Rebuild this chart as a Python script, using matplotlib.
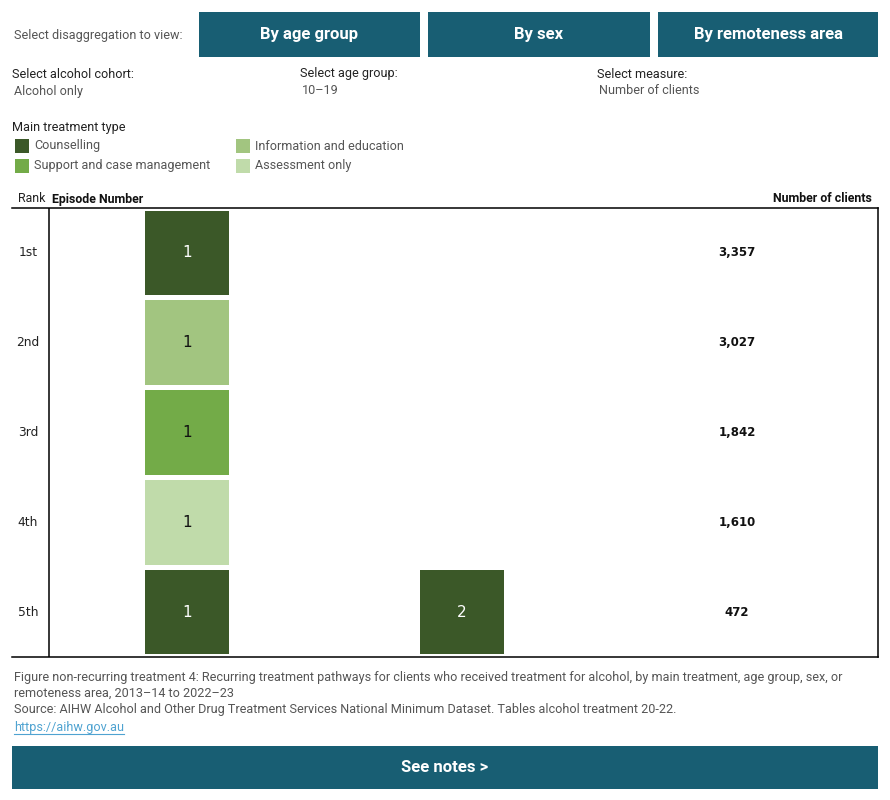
import matplotlib
matplotlib.use("Agg")
import matplotlib.pyplot as plt
from matplotlib import font_manager
from matplotlib.patches import Rectangle

# Dados
ranks = ["1st", "2nd", "3rd", "4th", "5th"]
pathways = [
    ["Counselling"],
    ["Information and education"],
    ["Support and case management"],
    ["Assessment only"],
    ["Counselling", "Counselling"],
]
clients = [3357, 3027, 1842, 1610, 472]

legend_items = ["Counselling", "Support and case management",
                "Information and education", "Assessment only"]
colors = {
    "Counselling": "#3b5828",
    "Information and education": "#a2c580",
    "Support and case management": "#73ab48",
    "Assessment only": "#c0dbaa",
}
dark_types = ["Counselling"]

buttons = ["By age group", "By sex", "By remoteness area"]
TEAL = "#185e73"
GRAY = "#555555"

# fonte condensada (estilo Tableau) se existir
names = {f.name for f in font_manager.fontManager.ttflist}
ui_font = ["Liberation Sans Narrow"] if "Liberation Sans Narrow" in names else ["Roboto"]
ui_font = ui_font + ["DejaVu Sans"]
FS = 9.1

W, H = 890, 800
fig = plt.figure(figsize=(W / 100, H / 100), dpi=100)


def fx(x):
    return x / W


def fy(y):
    return 1 - y / H


def txt(x, y, s, **kw):
    kw.setdefault("family", ui_font)
    kw.setdefault("va", "center")
    fig.text(fx(x), fy(y), s, **kw)


def box(x0, y0, x1, y1, color):
    fig.patches.append(Rectangle((fx(x0), fy(y1)), fx(x1) - fx(x0), fy(y0) - fy(y1),
                                 transform=fig.transFigure, color=color, lw=0))


# Cabeçalho com botões
txt(14, 35, "Select disaggregation to view:", size=FS, color=GRAY)
for (x0, x1), label in zip([(199, 420), (428, 650), (658, 878)], buttons):
    box(x0, 12, x1, 57, TEAL)
    txt((x0 + x1) / 2, 35, label, size=12, color="white", weight="bold", ha="center")

# Filtros
for x, head, val in [(12, "Select alcohol cohort:", "Alcohol only"),
                     (300, "Select age group:", "10\u201319"),
                     (597, "Select measure:", "Number of clients")]:
    txt(x, 74, head, size=FS, color="#222222")
    txt(x + 2, 91, val, size=FS, color=GRAY)

# Legenda
txt(12, 128, "Main treatment type", size=FS, color="#222222")
for i, item in enumerate(legend_items):
    col, row = divmod(i, 2)
    x = 15 + col * 221
    y = 146 + row * 20
    box(x, y - 7, x + 14, y + 7, colors[item])
    txt(x + 19, y, item, size=FS, color=GRAY)

# Cabeçalhos da tabela
txt(18, 199, "Rank", size=8.9, color="#222222")
txt(52, 199, "Episode Number", size=8.9, color="#111111", weight="bold")
txt(872, 199, "Number of clients", size=8.9, color="#111111", weight="bold", ha="right")

# Gráfico principal
ax = fig.add_axes([fx(12), fy(657), fx(878) - fx(12), fy(208) - fy(657)])
ax.set_xlim(1 - 175 / 275, 1 + 691 / 275)
ax.set_ylim(5.5, 0.5)
bar_w = 84 / 275
for r, (rank, path, n) in enumerate(zip(ranks, pathways, clients), start=1):
    for ep, t in enumerate(path, start=1):
        ax.bar(ep, 0.944, bottom=r - 0.472, width=bar_w, color=colors[t], lw=0)
        ax.text(ep, r, str(ep), ha="center", va="center", fontsize=11,
                color="white" if t in dark_types else "#111111")
    ax.text(1 - 159 / 275, r, rank, ha="center", va="center", fontsize=8.8, color="#222222")
    ax.text(3, r, f"{n:,}", ha="center", va="center", fontsize=8.5, weight="bold", color="#111111")

ax.axvline(1 - 138 / 275, color="black", lw=1.1)
ax.set_xticks([])
ax.set_yticks([])
ax.spines["left"].set_visible(False)
for s in ["top", "bottom", "right"]:
    ax.spines[s].set_linewidth(1.1)
    ax.spines[s].set_color("black")

# Rodapé
txt(14, 677, "Figure non-recurring treatment 4: Recurring treatment pathways for clients who received "
    "treatment for alcohol, by main treatment, age group, sex, or", size=FS, color=GRAY)
txt(14, 693, "remoteness area, 2013\u201314 to 2022\u201323", size=FS, color=GRAY)
txt(14, 710, "Source: AIHW Alcohol and Other Drug Treatment Services National Minimum Dataset. "
    "Tables alcohol treatment 20-22.", size=FS, color=GRAY)
link_col = "#4fa3d1"
txt(14, 727, "https://aihw.gov.au", size=FS, color=link_col)
fig.add_artist(plt.Line2D([fx(14), fx(124)], [fy(734), fy(734)], color=link_col, lw=0.8))

box(12, 746, 878, 789, TEAL)
txt(445, 767, "See notes >", size=12, color="white", weight="bold", ha="center")

fig.savefig("out.png", dpi=100)
